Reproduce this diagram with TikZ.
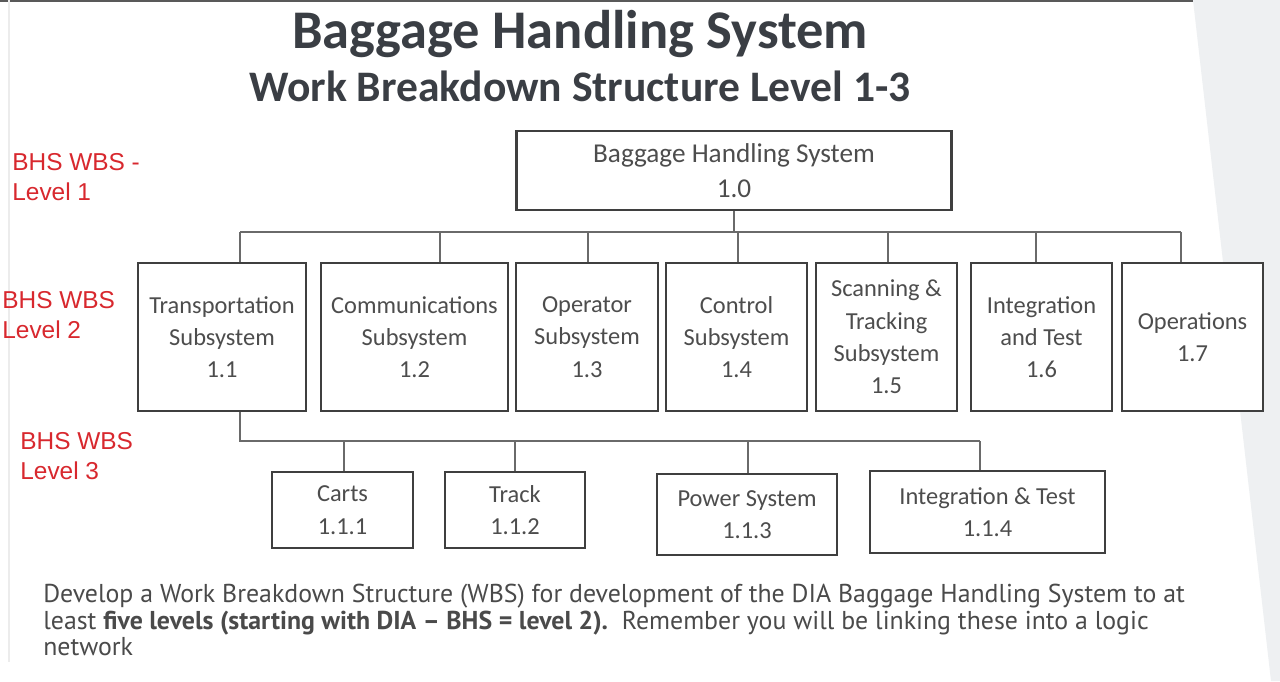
\documentclass[tikz,border=0pt]{standalone}
\usepackage{fontspec}
\setmainfont{Carlito}
\newfontfamily\lvlfont{Liberation Sans}
\newfontfamily\notefont{PT Sans}
\usepackage{xcolor}
\usepackage{tikz}
\definecolor{boxline}{HTML}{3F3F3F}
\definecolor{boxtext}{HTML}{4D4D4D}
\definecolor{linkgray}{HTML}{6A6A6A}
\definecolor{lvlred}{HTML}{D8282E}
\definecolor{titlegray}{HTML}{3A3E44}
\definecolor{notegray}{HTML}{4A4A4A}
\definecolor{panelgray}{HTML}{EEF0F2}
\newcommand{\pu}{0.02cm}

\begin{document}
\begin{tikzpicture}[x=0.02cm, y=-0.02cm,
  wbs/.style={draw=boxline, line width=1.3pt, text=boxtext, align=center, inner sep=0pt, fill=white, font=\fontsize{13.9}{18.4}\selectfont},
  link/.style={draw=linkgray, line width=0.8pt},
  lvl/.style={anchor=west, align=left, inner sep=0pt, text=lvlred, font=\lvlfont\fontsize{13.9}{17}\selectfont}
]
\useasboundingbox (0,0) rectangle (1280,681);
\fill[white] (0,0) rectangle (1280,681);
\fill[panelgray] (1193,0) -- (1280,0) -- (1280,681) -- (1271,681) -- cycle;
\draw[gray!70!black, line width=1.1pt] (0,1) -- (1193,1);
\draw[gray!15, line width=0.6pt] (9,0) -- (9,662);

\node[text=titlegray, font=\bfseries\fontsize{31}{34}\selectfont] (title) at (580,34) {Baggage Handling System};
\node[text=titlegray, font=\bfseries\fontsize{24.8}{28}\selectfont] (subtitle) at (580,86) {Work Breakdown Structure Level 1-3};

\node[lvl] (lvl1) at (12,177.5) {BHS WBS -\\Level 1};
\node[lvl] (lvl2) at (2,315) {BHS WBS\\Level 2};
\node[lvl] (lvl3) at (20,456.5) {BHS WBS\\Level 3};

\node[wbs, minimum width=435*\pu, minimum height=79*\pu, font=\fontsize{15.5}{19.8}\selectfont] (top) at (734,170.5) {Baggage Handling System\\1.0};

\node[wbs, minimum width=168*\pu, minimum height=148*\pu] (t11) at (222,337) {Transportation\\Subsystem\\1.1};
\node[wbs, minimum width=187*\pu, minimum height=148*\pu] (t12) at (414.5,337) {Communications\\Subsystem\\1.2};
\node[wbs, minimum width=142*\pu, minimum height=148*\pu] (t13) at (587,337) {Operator\\Subsystem\\1.3};
\node[wbs, minimum width=141*\pu, minimum height=148*\pu] (t14) at (736.5,337) {Control\\Subsystem\\1.4};
\node[wbs, minimum width=141*\pu, minimum height=148*\pu] (t15) at (886.5,337) {Scanning \&\\Tracking\\Subsystem\\1.5};
\node[wbs, minimum width=141*\pu, minimum height=148*\pu] (t16) at (1041.5,337) {Integration\\and Test\\1.6};
\node[wbs, minimum width=141*\pu, minimum height=148*\pu] (t17) at (1192.5,337) {Operations\\1.7};

\node[wbs, minimum width=141*\pu, minimum height=76*\pu] (carts) at (342.5,510) {Carts\\1.1.1};
\node[wbs, minimum width=140*\pu, minimum height=76*\pu] (track) at (515,510) {Track\\1.1.2};
\node[wbs, minimum width=180*\pu, minimum height=81*\pu] (power) at (747,514.5) {Power System\\1.1.3};
\node[wbs, minimum width=235*\pu, minimum height=82*\pu] (integ) at (987.5,512) {Integration \& Test\\1.1.4};

\coordinate (busL) at (240,232);
\coordinate (busR) at (1181,232);
\draw[link] (top.south) -- (top.south |- busL);
\draw[link] (busL) -- (busR);
\foreach \n/\x in {t11/240, t12/440, t13/588, t14/738, t15/888, t16/1036, t17/1181} {
  \coordinate (d\n) at (\x,232);
  \draw[link] (d\n) -- (d\n |- \n.north);
}

\coordinate (subL) at (240,441);
\coordinate (subR) at (980,441);
\draw[link] (subL |- t11.south) -- (subL) -- (subR);
\foreach \n/\x in {carts/344, track/515, power/748, integ/980} {
  \coordinate (s\n) at (\x,441);
  \draw[link] (s\n) -- (s\n |- \n.north);
}

\node[anchor=west, align=left, text=notegray, inner sep=0pt, font=\notefont\fontsize{14.7}{15}\selectfont] (note) at (43,620)
  {Develop a Work Breakdown Structure (WBS) for development of the DIA Baggage Handling System to at\\
   least \textbf{five levels (starting with DIA – BHS = level 2).}\ \ Remember you will be linking these into a logic\\
   network};
\end{tikzpicture}
\end{document}
